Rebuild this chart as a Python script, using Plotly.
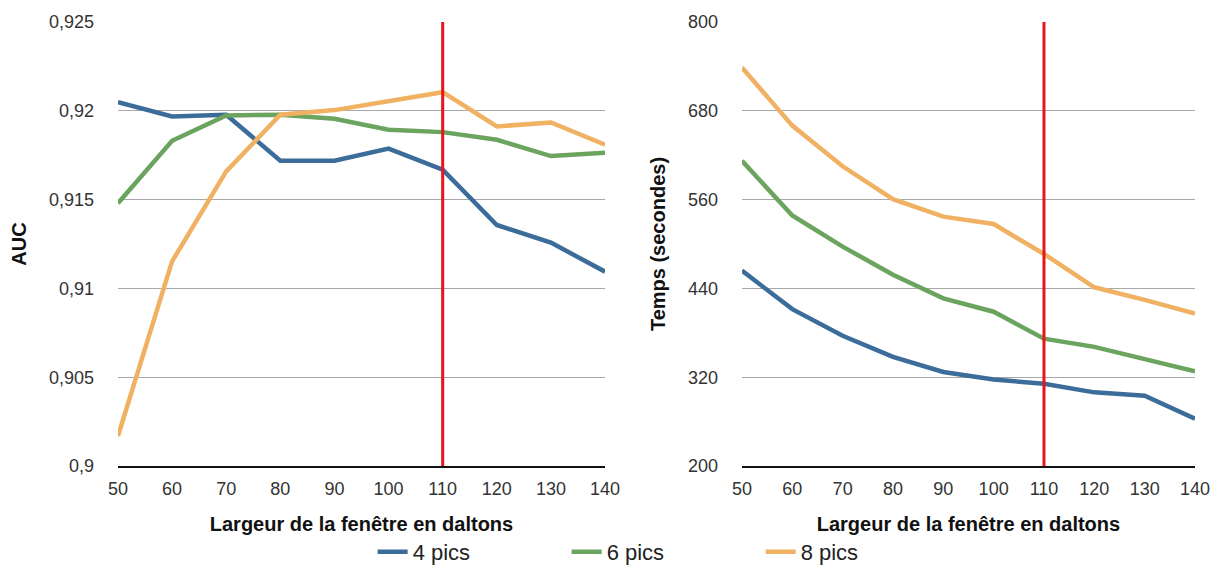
import plotly.graph_objects as go

x_vals = [50, 60, 70, 80, 90, 100, 110, 120, 130, 140]

auc_4 = [0.92049, 0.91968, 0.91978, 0.91719, 0.91719, 0.91787, 0.91669, 0.91357, 0.91258, 0.91094]
auc_6 = [0.91479, 0.91831, 0.91974, 0.91978, 0.91955, 0.91893, 0.91880, 0.91837, 0.91745, 0.91764]
auc_8 = [0.90169, 0.91152, 0.91659, 0.91978, 0.92004, 0.92052, 0.92105, 0.91912, 0.91934, 0.91809]

time_4 = [464, 412, 376, 347.5, 327, 317, 311, 299.5, 295, 264]
time_6 = [612.5, 538.5, 496.5, 458.5, 426.5, 408.5, 372, 361, 344.5, 328]
time_8 = [738.5, 660, 605, 560.5, 537, 527, 486.5, 441.5, 424.5, 406]

series_names = ["4 pics", "6 pics", "8 pics"]
colors = ["#3c6c9a", "#6aa45e", "#f0b262"]

auc_ticks = [0.9, 0.905, 0.91, 0.915, 0.92, 0.925]
auc_ticktext = ["0,9", "0,905", "0,91", "0,915", "0,92", "0,925"]
time_ticks = [200, 320, 440, 560, 680, 800]
x_ticks = [50, 60, 70, 80, 90, 100, 110, 120, 130, 140]
marker_x = 110

FONT = "Liberation Sans, Arial, Helvetica, sans-serif"

fig = go.Figure()

for name, col, ya, yb in zip(series_names, colors, [auc_4, auc_6, auc_8], [time_4, time_6, time_8]):
    fig.add_trace(go.Scatter(x=x_vals, y=ya, mode="lines", name=name,
                             line=dict(color=col, width=4.5), xaxis="x", yaxis="y",
                             legendgroup=name, showlegend=True))
    fig.add_trace(go.Scatter(x=x_vals, y=yb, mode="lines", name=name,
                             line=dict(color=col, width=4.5), xaxis="x2", yaxis="y2",
                             legendgroup=name, showlegend=False))

fig.add_shape(type="line", xref="x", yref="y", x0=marker_x, x1=marker_x,
              y0=auc_ticks[0], y1=auc_ticks[-1], line=dict(color="#e8141b", width=3), layer="above")
fig.add_shape(type="line", xref="x2", yref="y2", x0=marker_x, x1=marker_x,
              y0=time_ticks[0], y1=time_ticks[-1], line=dict(color="#e8141b", width=3), layer="above")

tick_font = dict(family=FONT, size=18, color="#333333")
title_font = dict(family=FONT, size=20, color="#111111")

xaxis_common = dict(range=[50, 140], tickvals=x_ticks, showgrid=False, zeroline=False,
                    showline=True, linecolor="#111111", linewidth=1.5, ticks="",
                    automargin=False, ticklabelstandoff=6, ticklabeloverflow="allow",
                    tickfont=tick_font, title=dict(text="<b>Largeur de la fenêtre en daltons</b>",
                                                   font=title_font, standoff=19))

fig.update_layout(
    width=1203, height=565,
    margin=dict(l=0, r=0, t=0, b=0, pad=0),
    paper_bgcolor="white", plot_bgcolor="white",
    xaxis=dict(domain=[0.0914, 0.4963], anchor="y", **xaxis_common),
    xaxis2=dict(domain=[0.6101, 0.9867], anchor="y2", **xaxis_common),
    yaxis=dict(domain=[0.1894, 0.9752], anchor="x", range=[0.9, 0.925],
               tickvals=auc_ticks, ticktext=auc_ticktext,
               showgrid=True, gridcolor="#a8a8a8", gridwidth=1, zeroline=False,
               tickfont=tick_font, ticks="", ticklabelstandoff=23, automargin=False,
               title=dict(text="<b>AUC</b>", font=title_font, standoff=16)),
    yaxis2=dict(domain=[0.1894, 0.9752], anchor="x2", range=[200, 800],
                tickvals=time_ticks,
                showgrid=True, gridcolor="#a8a8a8", gridwidth=1, zeroline=False,
                tickfont=tick_font, ticks="", ticklabelstandoff=23, automargin=False,
                title=dict(text="<b>Temps (secondes)</b>", font=title_font, standoff=16)),
    legend=dict(orientation="h", x=0.545, xanchor="center", y=0.0, yanchor="bottom",
                font=dict(family=FONT, size=22, color="#222222"),
                entrywidth=149, itemwidth=30),
    showlegend=True,
)

fig.write_html("out.html")
